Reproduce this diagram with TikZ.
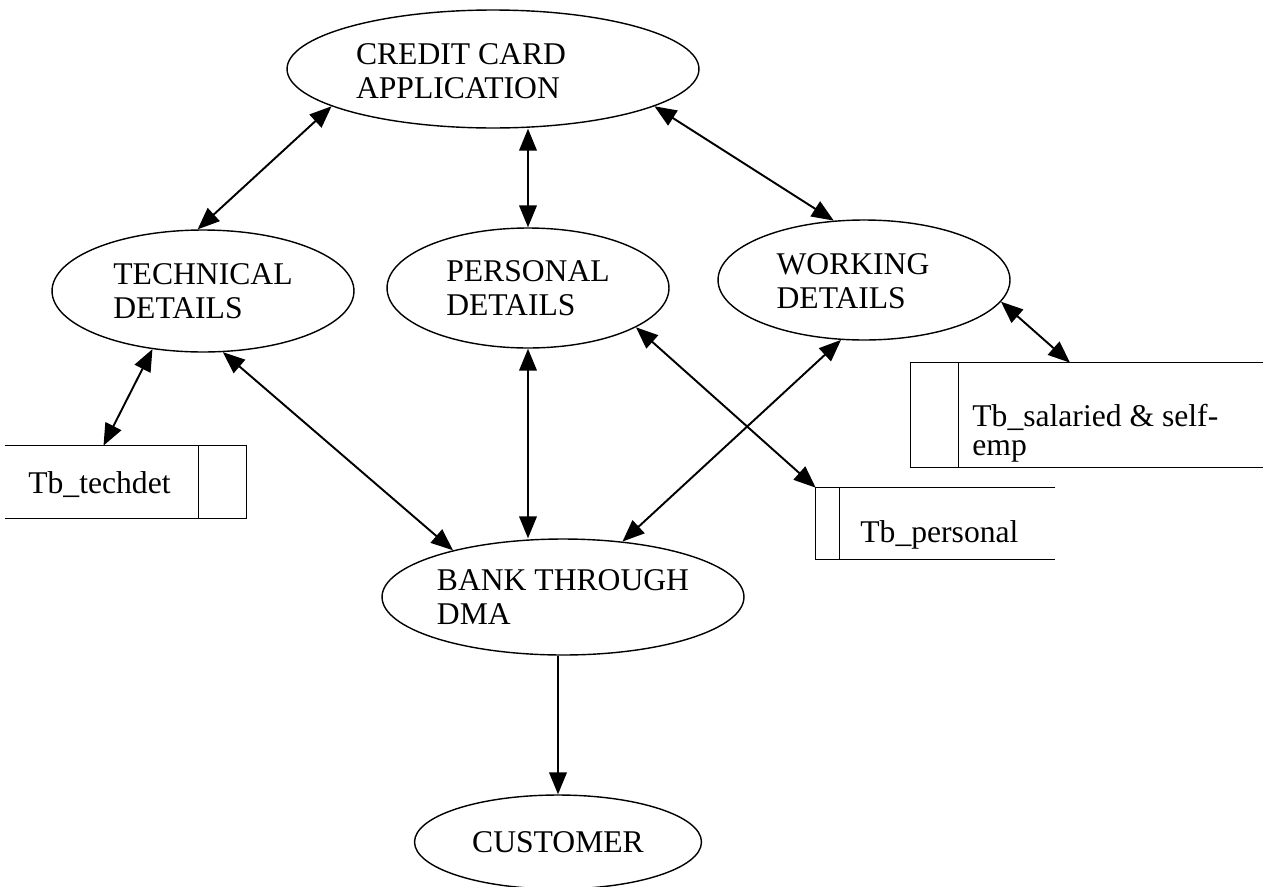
\documentclass[tikz,border=0pt]{standalone}
\usepackage{fontspec}
\setmainfont{Liberation Serif}
\usetikzlibrary{arrows.meta,shapes.geometric,calc}
\begin{document}
\begin{tikzpicture}[x=0.02cm,y=-0.02cm,
 proc/.style={ellipse,draw,line width=0.8pt,inner sep=0pt,align=left,font=\fontsize{18}{19.5}\selectfont},
 ptxt/.style={inner sep=0pt,align=left,font=\fontsize{18}{19.5}\selectfont},
 flow/.style={<->,>={Triangle[length=12.5pt,width=10pt]},line width=1.1pt},
 oneway/.style={->,>={Triangle[length=12.5pt,width=10pt]},line width=1.1pt},
 storebox/.style={rectangle,inner sep=0pt},
 storeline/.style={line width=0.8pt},
 stxt/.style={anchor=base west,inner sep=0pt,font=\fontsize{18}{16.5}\selectfont,align=left}]
\useasboundingbox (0,0) rectangle (1263,886);

% processes
\node[proc,minimum width=8.24cm,minimum height=2.36cm] (cc) at (493,69) {};
\node[ptxt] (cclbl) at (461,71) {CREDIT CARD\\APPLICATION};
\node[proc,minimum width=6.04cm,minimum height=2.44cm] (tech) at (203,291) {TECHNICAL\\DETAILS};
\node[proc,minimum width=5.64cm,minimum height=2.40cm] (pers) at (528,288) {PERSONAL\\DETAILS};
\node[proc,minimum width=5.84cm,minimum height=2.40cm] (work) at (864,280) {};
\node[ptxt] (worklbl) at (853,281) {WORKING\\DETAILS};
\node[proc,minimum width=7.24cm,minimum height=2.32cm] (bank) at (563,597) {BANK THROUGH\\DMA};
\node[proc,minimum width=5.74cm,minimum height=1.88cm] (cust) at (558,842) {CUSTOMER};

% data stores
\node[storebox,minimum width=4.82cm,minimum height=1.44cm] (techdet) at (125.5,482) {};
\draw[storeline] (techdet.north west) -- (techdet.north east) -- (techdet.south east) -- (techdet.south west);
\draw[storeline] ($(techdet.north east)+(-48,0)$) -- ($(techdet.south east)+(-48,0)$);
\node[stxt] (techdetlbl) at (28,493) {Tb\_techdet};

\node[storebox,minimum width=4.78cm,minimum height=1.42cm] (tbpers) at (935.5,523.5) {};
\draw[storeline] (tbpers.north east) -- (tbpers.north west) -- (tbpers.south west) -- (tbpers.south east);
\draw[storeline] ($(tbpers.north west)+(24,0)$) -- ($(tbpers.south west)+(24,0)$);
\node[stxt] (tbperslbl) at (860,542) {Tb\_personal};

\node[storebox,minimum width=7.04cm,minimum height=2.08cm] (sal) at (1087,415) {};
\draw[storeline] (sal.north east) -- (sal.north west) -- (sal.south west) -- (sal.south east);
\draw[storeline] ($(sal.north west)+(48,0)$) -- ($(sal.south west)+(48,0)$);
\node[stxt] (sallbl) at (972,455) {Tb\_salaried \& self-\\emp};

% connectors
\draw[flow] (cc.193.4) -- (tech.95.6);
\draw[flow] (pers.north |- cc.south) -- (pers.north);
\draw[flow] (cc.-13.1) -- (work.117.8);
\draw[flow] (work.-9) -- ($(sal.north)+(-17,0)$);
\draw[flow] (tech.-131.5) -- ($(techdet.north)+(-22,0)$);
\draw[flow] (tech.-72.7) -- (bank.157.8);
\draw[flow] (pers.south) -- (pers.south |- bank.north);
\draw[flow] (pers.-20.9) -- (tbpers.north west);
\draw[flow] (work.-111) -- (bank.43.6);
\draw[oneway] (cust.north |- bank.south) -- (cust.north);
\end{tikzpicture}
\end{document}
